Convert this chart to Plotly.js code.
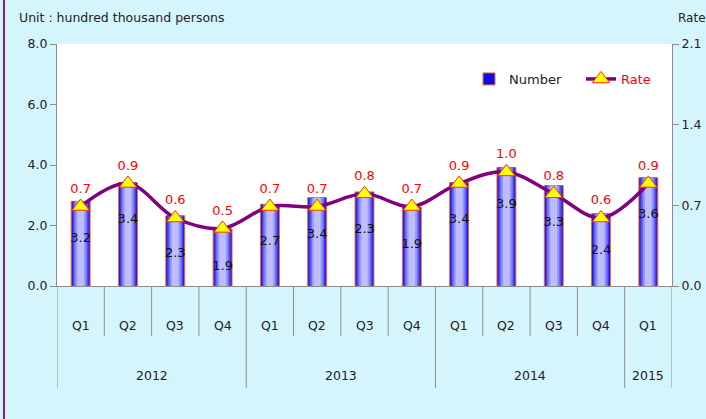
<!DOCTYPE html>
<html>
<head>
<meta charset="utf-8">
<script src="https://cdn.plot.ly/plotly-3.0.1.min.js"></script>
<style>
  html, body { margin: 0; padding: 0; background: #D5F5FC; overflow: hidden; }
  #wrap { position: absolute; left: 0; top: 0; width: 706px; height: 419px; }
  #bar { position: absolute; left: 3px; top: 0; width: 2px; height: 419px; background: #8B1A8B; }
  #chart { position: absolute; left: 0; top: 0; width: 706px; height: 419px; }
</style>
</head>
<body>
<div id="wrap"><div id="chart"></div><div id="bar"></div></div>
<script>
// ---- data ----
const quarters = ['Q1','Q2','Q3','Q4','Q1','Q2','Q3','Q4','Q1','Q2','Q3','Q4','Q1'];
const years = ['2012','2012','2012','2012','2013','2013','2013','2013','2014','2014','2014','2014','2015'];
const numberValues = [2.80, 3.42, 2.32, 1.89, 2.70, 2.92, 3.11, 2.61, 3.42, 3.92, 3.32, 2.39, 3.58];
const numberLabels = ['3.2','3.4','2.3','1.9','2.7','3.4','2.3','1.9','3.4','3.9','3.3','2.4','3.6'];
const rateValues = [0.69, 0.89, 0.59, 0.50, 0.69, 0.69, 0.80, 0.69, 0.89, 0.99, 0.80, 0.59, 0.89];
const rateLabels = ['0.7','0.9','0.6','0.5','0.7','0.7','0.8','0.7','0.9','1.0','0.8','0.6','0.9'];
const leftTicks = [0, 2, 4, 6, 8];
const rightTicks = [0, 0.7, 1.4, 2.1];

const FONT = 'DejaVu Sans, Verdana, sans-serif';
const xs = quarters.map((_, i) => i);

// gradient simulation for bars: overlaid bars of decreasing width
const layers = [
  {w: 0.40, c: '#0C0CEC'},
  {w: 0.35, c: '#3838F4'},
  {w: 0.29, c: '#6A6AF9'},
  {w: 0.22, c: '#9898FD'},
  {w: 0.14, c: '#BEBEFF'}
];
const traces = [];
layers.forEach((L, k) => {
  traces.push({
    type: 'bar', x: xs, y: numberValues, width: L.w,
    name: 'Number', showlegend: k === 0, legendrank: 1,
    marker: {color: L.c, line: {color: k === 0 ? '#FF6A1A' : 'rgba(0,0,0,0)', width: k === 0 ? 1 : 0}},
    hoverinfo: 'skip'
  });
});
// bar value labels
traces.push({
  type: 'scatter', mode: 'markers+text', x: xs, y: numberValues,
  text: numberLabels, textposition: 'bottom center',
  textfont: {family: FONT, size: 13, color: '#111'},
  marker: {size: 48, opacity: 0}, showlegend: false, hoverinfo: 'skip', cliponaxis: false
});
// rate line
traces.push({
  type: 'scatter', mode: 'lines+markers+text', x: xs, y: rateValues, yaxis: 'y2',
  name: '<span style="color:#FF0000">Rate</span>', legendrank: 2,
  line: {color: '#800080', width: 3.5, shape: 'spline', smoothing: 1},
  marker: {symbol: 'triangle-up', size: 15, color: '#FFFF00', line: {color: '#FF3300', width: 1}},
  text: rateLabels, textposition: 'top center',
  textfont: {family: FONT, size: 13, color: '#FF0000'},
  hoverinfo: 'skip', cliponaxis: false
});

// category dividers and labels
const plotH = 242;
const shapes = [];
const annotations = [];
const qDrop = -50 / plotH, yDrop = -102 / plotH;
for (let i = 0; i <= quarters.length; i++) {
  const isYear = (i === 0 || i === quarters.length || years[i] !== years[i - 1]);
  shapes.push({type: 'line', xref: 'x', yref: 'paper', x0: i - 0.5, x1: i - 0.5,
    y0: 0, y1: isYear ? yDrop : qDrop, line: {color: '#8C8C8C', width: 1}});
}
quarters.forEach((q, i) => {
  annotations.push({xref: 'x', yref: 'paper', x: i, y: -39 / plotH, text: q, showarrow: false,
    yanchor: 'middle', font: {family: FONT, size: 12.5, color: '#222'}});
});
let start = 0;
for (let i = 1; i <= years.length; i++) {
  if (i === years.length || years[i] !== years[start]) {
    annotations.push({xref: 'x', yref: 'paper', x: (start + i - 1) / 2, y: -90 / plotH, text: years[start],
      showarrow: false, yanchor: 'middle', font: {family: FONT, size: 12.5, color: '#222'}});
    start = i;
  }
}
annotations.push({xref: 'paper', yref: 'paper', x: -40 / 615, y: (286 - 18) / plotH, xanchor: 'left', yanchor: 'middle',
  text: 'Unit : hundred thousand persons', showarrow: false, font: {family: FONT, size: 12.5, color: '#222'}});
annotations.push({xref: 'paper', yref: 'paper', x: (676 - 57) / 615, y: (286 - 18) / plotH, xanchor: 'left', yanchor: 'middle',
  text: 'Rate', showarrow: false, font: {family: FONT, size: 12, color: '#222'}});

const layout = {
  width: 706, height: 419,
  margin: {l: 57, r: 34, t: 44, b: 133, pad: 0, autoexpand: false},
  paper_bgcolor: 'rgba(0,0,0,0)', plot_bgcolor: '#FFFFFF',
  font: {family: FONT, size: 12.5, color: '#222'},
  barmode: 'overlay',
  showlegend: true,
  legend: {orientation: 'h', x: (469 - 57) / 615, y: (286 - 64) / plotH, xanchor: 'left', yanchor: 'top',
    entrywidth: 67, entrywidthmode: 'pixels',
    bgcolor: 'rgba(0,0,0,0)', font: {family: FONT, size: 13, color: '#222'}, traceorder: 'normal'},
  xaxis: {range: [-0.5, quarters.length - 0.5], showticklabels: false, ticks: '', showgrid: false,
    zeroline: false, showline: true, linecolor: '#8C8C8C', linewidth: 1, fixedrange: true},
  yaxis: {range: [0, 8], tickvals: leftTicks, tickformat: '.1f', ticks: 'outside', ticklen: 6,
    tickcolor: '#8C8C8C', showline: true, linecolor: '#8C8C8C', linewidth: 1, showgrid: false,
    zeroline: false, tickfont: {family: FONT, size: 12.5, color: '#222'}, fixedrange: true},
  yaxis2: {range: [0, 2.1], tickvals: rightTicks, tickformat: '.1f', overlaying: 'y', side: 'right',
    ticks: 'outside', ticklen: 6, tickcolor: '#8C8C8C', showline: true, linecolor: '#8C8C8C',
    linewidth: 1, showgrid: false, zeroline: false, tickfont: {family: FONT, size: 12.5, color: '#222'}, fixedrange: true},
  shapes: shapes,
  annotations: annotations
};

Plotly.newPlot('chart', traces, layout, {displayModeBar: false, staticPlot: true});
</script>
</body>
</html>
